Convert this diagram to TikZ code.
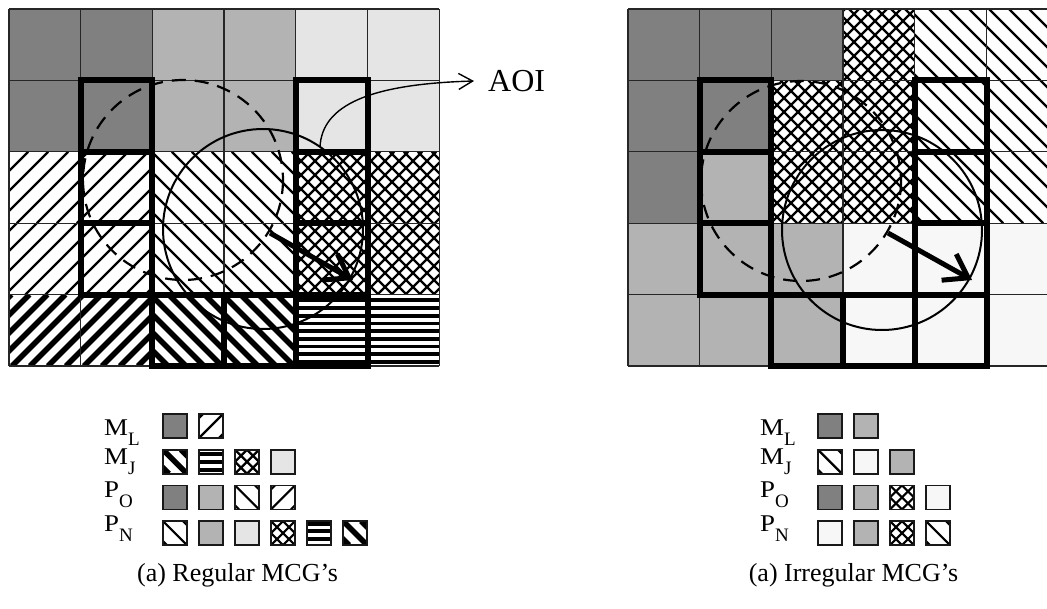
\documentclass[tikz,border=0pt]{standalone}
\usepackage{fontspec}
\setmainfont{Liberation Serif}
\usetikzlibrary{arrows.meta}
\definecolor{gD}{HTML}{808080}
\definecolor{gM}{HTML}{B3B3B3}
\definecolor{gL}{HTML}{E5E5E5}
\definecolor{gV}{HTML}{F7F7F7}
\tikzset{
  gridline/.style={draw=black!85, line width=1.3pt},
  mcg/.style={draw=black, line width=6pt},
  legbox/.style={draw=black!90, line width=1.8pt},
  oldaoi/.style={draw=black, line width=2.2pt, dash pattern=on 14pt off 9pt},
  newaoi/.style={draw=black, line width=2pt},
  move/.style={draw=black, line width=5pt, -{Straight Barb[length=22pt,width=30pt]}},
  aoiline/.style={draw=black, line width=1.4pt, -{Straight Barb[length=14pt,width=16pt]}},
  lab/.style={anchor=base west, inner sep=0pt, font=\fontsize{24}{28}\selectfont},
  captxt/.style={inner sep=0pt, font=\fontsize{26}{30}\selectfont},
  hatchline/.style={draw=black, line cap=butt},
}
% #1 kind (0 horizontal, 1 "/", 2 "\"), #2 spacing, #3 line width, #4..#7 x0 y0 x1 y1
\newcommand\hatchlines[7]{%
  \begin{scope}
  \clip (#4,#5) rectangle (#6,#7);
  \ifcase#1\relax
    \pgfmathsetmacro\hcS{floor(#5/#2)*#2}%
    \pgfmathtruncatemacro\hcN{ceil((#7-\hcS)/#2)}%
    \foreach \k in {0,...,\hcN} \draw[hatchline,line width=#3] (#4,{\hcS+\k*#2}) -- (#6,{\hcS+\k*#2});
  \or
    \pgfmathsetmacro\hcS{floor((#4+#5)/#2)*#2}%
    \pgfmathtruncatemacro\hcN{ceil((#6+#7-\hcS)/#2)}%
    \foreach \k in {0,...,\hcN} \draw[hatchline,line width=#3] ({\hcS+\k*#2-#7},#7) -- ({\hcS+\k*#2-#5},#5);
  \or
    \pgfmathsetmacro\hcS{floor((#4-#7)/#2)*#2}%
    \pgfmathtruncatemacro\hcN{ceil((#6-#5-\hcS)/#2)}%
    \foreach \k in {0,...,\hcN} \draw[hatchline,line width=#3] ({\hcS+\k*#2+#5},#5) -- ({\hcS+\k*#2+#7},#7);
  \or
    % 3: "/" anchored on the box diagonal
    \foreach \k in {-3,...,3} \draw[hatchline,line width=#3] ({#4+#7+\k*#2-#7},#7) -- ({#4+#7+\k*#2-#5},#5);
  \or
    % 4: "\" anchored on the box diagonal
    \foreach \k in {-3,...,3} \draw[hatchline,line width=#3] ({#4-#5+\k*#2+#5},#5) -- ({#4-#5+\k*#2+#7},#7);
  \fi
  \end{scope}}
\newcommand\cellD[4]{\fill[gD] (#1,#2) rectangle (#3,#4);}
\newcommand\cellM[4]{\fill[gM] (#1,#2) rectangle (#3,#4);}
\newcommand\cellL[4]{\fill[gL] (#1,#2) rectangle (#3,#4);}
\newcommand\cellV[4]{\fill[gV] (#1,#2) rectangle (#3,#4);}
\newcommand\cellNE[4]{\hatchlines{1}{20}{2.2}{#1}{#2}{#3}{#4}}
\newcommand\cellNW[4]{\hatchlines{2}{20}{2.2}{#1}{#2}{#3}{#4}}
\newcommand\cellNEb[4]{\hatchlines{1}{18}{5.5}{#1}{#2}{#3}{#4}}
\newcommand\cellNWb[4]{\hatchlines{2}{18}{5.5}{#1}{#2}{#3}{#4}}
\newcommand\cellX[4]{\hatchlines{1}{14}{2.4}{#1}{#2}{#3}{#4}\hatchlines{2}{14}{2.4}{#1}{#2}{#3}{#4}}
\newcommand\cellH[4]{\hatchlines{0}{7.7}{3.8}{#1}{#2}{#3}{#4}}
% legend variants, anchored on each small box
\newcommand\celllNE[4]{\hatchlines{3}{20}{2.2}{#1}{#2}{#3}{#4}}
\newcommand\celllNW[4]{\hatchlines{4}{20}{2.2}{#1}{#2}{#3}{#4}}
\newcommand\celllNWb[4]{\hatchlines{4}{18}{5.5}{#1}{#2}{#3}{#4}}
\newcommand\celllX[4]{\hatchlines{3}{12}{2.2}{#1}{#2}{#3}{#4}\hatchlines{4}{12}{2.2}{#1}{#2}{#3}{#4}}
% grid of cells: #1 x origin, #2 list of rows
\newcommand\cellgrid[2]{%
  \foreach \row [count=\r] in {#2}
    \foreach \s [count=\c] in \row {
      \pgfmathsetmacro\xa{#1+(\c-1)*71.7}
      \pgfmathsetmacro\ya{9+(\r-1)*71.4}
      \pgfmathsetmacro\xb{\xa+71.7}
      \pgfmathsetmacro\yb{\ya+71.4}
      \csname cell\s\endcsname{\xa}{\ya}{\xb}{\yb}
    }}
% legend: #1 x origin, #2 list of rows
\newcommand\legendboxes[2]{%
  \foreach \row [count=\r] in {#2}
    \foreach \s [count=\c] in \row {
      \pgfmathsetmacro\xa{#1+(\c-1)*36}
      \pgfmathsetmacro\ya{414+(\r-1)*35.7}
      \pgfmathsetmacro\xb{\xa+24}
      \pgfmathsetmacro\yb{\ya+24}
      \csname cell\s\endcsname{\xa}{\ya}{\xb}{\yb}
      \draw[legbox] (\xa,\ya) rectangle (\xb,\yb);
    }}
\newcommand\labtxt[2]{\scalebox{1.12}[1]{#1}\raisebox{-10pt}{\fontsize{19}{22}\selectfont #2}}
\begin{document}
\begin{tikzpicture}[x=1pt,y=-1pt]
\useasboundingbox (0,0) rectangle (1047,608);
\fill[white] (0,0) rectangle (1047,608);
% ---------- left grid ----------
\cellgrid{9}{{D,D,M,M,L,L},{D,D,M,M,L,L},{NE,NE,NW,NW,X,X},{NE,NE,NW,NW,X,X},{NEb,NEb,NWb,NWb,H,H}}
\foreach \i in {0,...,6} \draw[gridline] ({9+\i*71.7},9) -- ({9+\i*71.7},366);
\foreach \j in {0,...,5} \draw[gridline] (9,{9+\j*71.4}) -- (439.2,{9+\j*71.4});
\draw[oldaoi] (183,180) circle[radius=100];
\draw[newaoi] (263,229) circle[radius=100];
\foreach \c/\r in {2/2,2/3,2/4,5/2,5/3,5/4,5/5,3/5,4/5}
  \draw[mcg] ({9+(\c-1)*71.7},{9+(\r-1)*71.4}) rectangle ++(71.7,71.4);
\coordinate (Lfrom) at (270,233);
\coordinate (Lto) at (353,280);
\draw[move] (Lfrom) -- (Lto);
\node[inner sep=0pt, anchor=west, font=\fontsize{32}{38}\selectfont] (aoi) at (488,81) {AOI};
\coordinate (aoistart) at (320,147);
\coordinate (aoitip) at (474,81);
\draw[aoiline] (aoistart) .. controls (322,105) and (370,84) .. (aoitip);
% ---------- right grid ----------
\begin{scope}
\clip (0,0) rectangle (1047,608);
\cellgrid{628}{{D,D,D,X,NW,NW},{D,D,X,X,NW,NW},{D,M,X,X,NW,NW},{M,M,M,V,V,V},{M,M,M,V,V,V}}
\foreach \i in {0,...,6} \draw[gridline] ({628+\i*71.7},9) -- ({628+\i*71.7},366);
\foreach \j in {0,...,5} \draw[gridline] (628,{9+\j*71.4}) -- (1060,{9+\j*71.4});
\draw[oldaoi] (801,181) circle[radius=100];
\draw[newaoi] (882,230) circle[radius=100];
\foreach \c/\r in {2/2,2/3,2/4,5/2,5/3,5/4,5/5,3/5,4/5}
  \draw[mcg] ({628+(\c-1)*71.7},{9+(\r-1)*71.4}) rectangle ++(71.7,71.4);
\coordinate (Rfrom) at (888,233);
\coordinate (Rto) at (972,280);
\draw[move] (Rfrom) -- (Rto);
\end{scope}
% ---------- left legend ----------
\legendboxes{163}{{D,lNE},{lNWb,H,lX,L},{D,M,lNW,lNE},{lNW,M,L,lX,H,lNWb}}
\node[lab] (lML) at (104,435) {\labtxt{M}{L}};
\node[lab] (lMJ) at (104,464) {\labtxt{M}{J}};
\node[lab] (lPO) at (104,497) {\labtxt{P}{O}};
\node[lab] (lPN) at (104,531) {\labtxt{P}{N}};
% ---------- right legend ----------
\legendboxes{818}{{D,M},{lNW,V,M},{D,M,lX,V},{V,M,lX,lNW}}
\node[lab] (rML) at (760,435) {\labtxt{M}{L}};
\node[lab] (rMJ) at (760,464) {\labtxt{M}{J}};
\node[lab] (rPO) at (760,497) {\labtxt{P}{O}};
\node[lab] (rPN) at (760,531) {\labtxt{P}{N}};
% ---------- captions ----------
\node[captxt] (capL) at (237.5,575) {(a) Regular MCG's};
\node[captxt] (capR) at (853.5,575) {(a) Irregular MCG's};
\end{tikzpicture}
\end{document}
